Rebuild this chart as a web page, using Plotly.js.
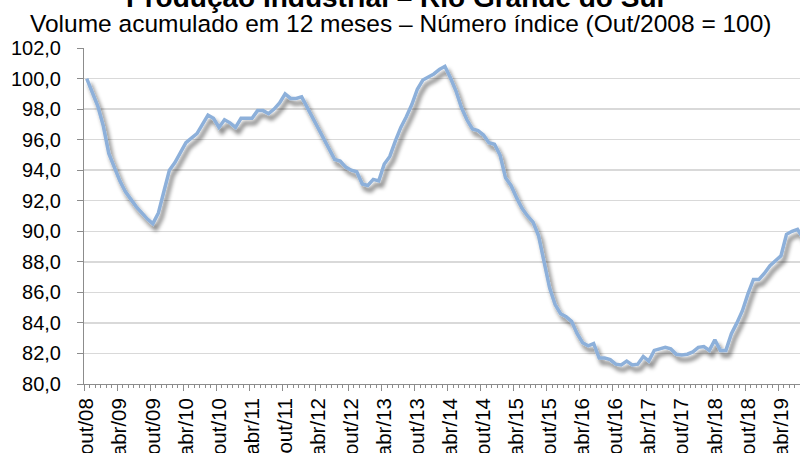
<!DOCTYPE html>
<html>
<head>
<meta charset="utf-8">
<script src="https://cdn.plot.ly/plotly-3.0.1.min.js"></script>
<style>
  html, body { margin: 0; padding: 0; background: #fff; }
  #chart { width: 800px; height: 453px; }
</style>
</head>
<body>
<div id="chart"></div>
<script>
// Índice de volume acumulado em 12 meses, mensal, de out/2008 em diante
const values = [
  100.0, 99.1, 98.2, 96.9, 95.1, 94.2, 93.3, 92.6, 92.1, 91.6,
  91.2, 90.8, 90.5, 91.2, 92.6, 94.0, 94.5, 95.2, 95.8, 96.1,
  96.4, 97.0, 97.6, 97.4, 96.8, 97.3, 97.1, 96.8, 97.4, 97.4,
  97.4, 97.9, 97.9, 97.7, 98.0, 98.4, 99.0, 98.7, 98.7, 98.8,
  98.1, 97.4, 96.7, 96.1, 95.3, 94.7, 94.6, 94.2, 94.0, 93.9,
  93.1, 93.0, 93.4, 93.3, 94.4, 94.9, 95.9, 96.8, 97.5, 98.3,
  99.3, 99.9, 100.1, 100.3, 100.6, 100.8, 100.05, 99.2, 98.1, 97.3,
  96.7, 96.6, 96.3, 95.8, 95.7, 95.0, 93.5, 93.0, 92.2, 91.5,
  91.0, 90.6, 89.7, 88.0, 86.3, 85.2, 84.6, 84.4, 84.1, 83.3,
  82.7, 82.5, 82.65, 81.7, 81.7, 81.6, 81.3, 81.25, 81.5, 81.25,
  81.3, 81.8, 81.5, 82.2, 82.3, 82.4, 82.3, 81.95, 81.9, 81.95,
  82.1, 82.4, 82.45, 82.2, 82.9, 82.2, 82.2, 83.3, 84.0, 84.8,
  85.9, 86.85, 86.85, 87.25, 87.75, 88.05, 88.4, 89.8, 90.0, 90.13,
  89.55
];
const tickLabels = ['out/08','abr/09','out/09','abr/10','out/10','abr/11','out/11',
  'abr/12','out/12','abr/13','out/13','abr/14','out/14','abr/15','out/15','abr/16',
  'out/16','abr/17','out/17','abr/18','out/18','abr/19'];
const yTicks = [80, 82, 84, 86, 88, 90, 92, 94, 96, 98, 100, 102];
const titleText = '<b>Produção Industrial – Rio Grande do Sul</b>';
const subtitleText = 'Volume acumulado em 12 meses – Número índice (Out/2008 = 100)';

const months = values.map((_, i) => i);
const tickIdx = tickLabels.map((_, i) => i * 6);
const xRange = [-0.5, 129.45];
const FONT = 'Liberation Sans, Arial, sans-serif';

const traces = [
  {
    x: months, y: values, type: 'scatter', mode: 'lines',
    line: { color: '#8db0da', width: 3.5 },
    hoverinfo: 'skip', showlegend: false
  },
  {
    x: months, y: values, type: 'scatter', mode: 'lines', xaxis: 'x2',
    line: { color: 'rgba(0,0,0,0)', width: 0 },
    hoverinfo: 'skip', showlegend: false
  }
];

const layout = {
  width: 800, height: 453,
  margin: { l: 84, r: 0, t: 48, b: 69 },
  paper_bgcolor: '#ffffff', plot_bgcolor: '#ffffff',
  separators: ',.',
  font: { family: FONT, color: '#000', size: 20 },
  showlegend: false,
  xaxis: {
    range: xRange, tickmode: 'array', tickvals: tickIdx, ticktext: tickLabels,
    tickangle: -90, ticks: '', showgrid: false, zeroline: false, showline: false,
    ticklabelstandoff: 9,
    tickfont: { family: FONT, size: 20.5, color: '#000' }
  },
  xaxis2: {
    overlaying: 'x', anchor: 'y', side: 'bottom', range: xRange,
    showticklabels: false, showgrid: false, zeroline: false,
    showline: true, linecolor: '#8c8c8c', linewidth: 1,
    ticks: 'outside', tick0: -0.5, dtick: 6, ticklen: 6, tickcolor: '#8c8c8c', tickwidth: 1,
    minor: { ticks: 'outside', tick0: -0.5, dtick: 1, ticklen: 3, tickcolor: '#8c8c8c', tickwidth: 1, showgrid: false }
  },
  yaxis: {
    range: [80, 102], tickmode: 'array', tickvals: yTicks, tickformat: '.1f',
    showgrid: true, gridcolor: '#d9d9d9', gridwidth: 1.5, zeroline: false,
    showline: true, linecolor: '#8c8c8c', linewidth: 1,
    ticks: 'outside', ticklen: 6, tickcolor: '#8c8c8c',
    ticklabelstandoff: 12,
    tickfont: { family: FONT, size: 20, color: '#000' }
  },
  annotations: [
    {
      text: titleText, xref: 'paper', yref: 'paper',
      x: (395 - 84) / 716, y: (384 - 15) / 336, xanchor: 'center', yanchor: 'bottom',
      showarrow: false, font: { family: FONT, size: 28, color: '#000' }
    },
    {
      text: subtitleText, xref: 'paper', yref: 'paper',
      x: (401 - 84) / 716, y: (384 - 39) / 336, xanchor: 'center', yanchor: 'bottom',
      showarrow: false, font: { family: FONT, size: 24.5, color: '#000' }
    }
  ]
};

Plotly.newPlot('chart', traces, layout, { displayModeBar: false, staticPlot: true }).then(function (gd) {
  const svg = gd.querySelector('.main-svg');
  const ns = 'http://www.w3.org/2000/svg';
  let defs = svg.querySelector('defs');
  if (!defs) { defs = document.createElementNS(ns, 'defs'); svg.insertBefore(defs, svg.firstChild); }
  const f = document.createElementNS(ns, 'filter');
  f.setAttribute('id', 'lineShadow');
  f.setAttribute('x', '-10%'); f.setAttribute('y', '-10%');
  f.setAttribute('width', '120%'); f.setAttribute('height', '130%');
  f.innerHTML =
    '<feGaussianBlur in="SourceAlpha" stdDeviation="2.2"/>' +
    '<feOffset dx="3" dy="4.5" result="off"/>' +
    '<feComponentTransfer><feFuncA type="linear" slope="0.55"/></feComponentTransfer>' +
    '<feMerge><feMergeNode/><feMergeNode in="SourceGraphic"/></feMerge>';
  defs.appendChild(f);
  const line = gd.querySelector('.subplot.xy .scatterlayer .trace path.js-line');
  if (line) line.setAttribute('filter', 'url(#lineShadow)');
});
</script>
</body>
</html>
